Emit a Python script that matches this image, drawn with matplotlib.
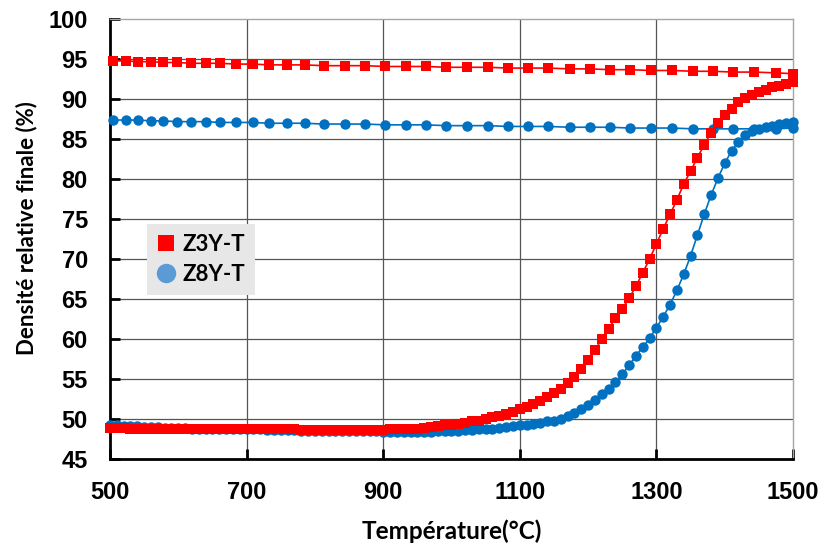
import matplotlib
matplotlib.use("Agg")
import matplotlib.pyplot as plt
from matplotlib.lines import Line2D

# ---------------- data ----------------
heat_T = list(range(500, 1501, 10))

z3y_heat = [48.9, 48.9, 48.9, 48.8, 48.8, 48.8, 48.8, 48.8, 48.7, 48.7,
            48.7, 48.7, 48.7, 48.7, 48.7, 48.7, 48.7, 48.7, 48.7, 48.7,
            48.7, 48.7, 48.7, 48.7, 48.7, 48.7, 48.7, 48.7, 48.6, 48.6,
            48.6, 48.6, 48.6, 48.6, 48.6, 48.6, 48.6, 48.6, 48.6, 48.6,
            48.6, 48.7, 48.7, 48.7, 48.8, 48.8, 48.9, 49.0, 49.1, 49.2,
            49.3, 49.4, 49.5, 49.7, 49.8, 50.0, 50.2, 50.4, 50.6, 50.9,
            51.2, 51.5, 51.9, 52.3, 52.7, 53.2, 53.8, 54.5, 55.3, 56.2,
            57.4, 58.6, 60.0, 61.3, 62.6, 63.8, 65.1, 66.6, 68.3, 70.0,
            71.9, 73.8, 75.6, 77.4, 79.4, 81.0, 82.7, 84.3, 85.8, 87.0,
            88.0, 88.8, 89.6, 90.1, 90.5, 90.9, 91.2, 91.5, 91.7, 91.9,
            92.1]

z8y_heat = [49.2, 49.2, 49.1, 49.1, 49.1, 49.0, 49.0, 49.0, 48.9, 48.9,
            48.9, 48.9, 48.8, 48.8, 48.8, 48.8, 48.8, 48.7, 48.7, 48.7,
            48.7, 48.7, 48.7, 48.6, 48.6, 48.6, 48.6, 48.6, 48.5, 48.5,
            48.5, 48.5, 48.5, 48.5, 48.5, 48.5, 48.5, 48.5, 48.5, 48.5,
            48.4, 48.4, 48.4, 48.4, 48.4, 48.4, 48.4, 48.4, 48.5, 48.5,
            48.5, 48.5, 48.6, 48.6, 48.7, 48.7, 48.8, 48.9, 49.0, 49.1,
            49.2, 49.3, 49.4, 49.5, 49.7, 49.8, 50.0, 50.4, 50.8, 51.3,
            51.8, 52.4, 53.1, 53.8, 54.6, 55.6, 56.7, 57.9, 59.0, 60.1,
            61.4, 62.8, 64.3, 66.1, 68.1, 70.4, 73.0, 75.6, 78.0, 80.1,
            82.0, 83.5, 84.7, 85.5, 86.0, 86.3, 86.5, 86.7, 86.9, 87.0,
            87.2]

final_T = [505, 523, 541, 560, 578, 598, 619, 641, 661, 684, 709, 733, 759,
           785, 813, 844, 873, 903, 933, 963, 992, 1023, 1053, 1083, 1112,
           1141, 1173, 1203, 1232, 1261, 1292, 1323, 1354, 1383, 1412, 1443,
           1475, 1500]

z3y_final = [94.8, 94.8, 94.7, 94.7, 94.6, 94.6, 94.5, 94.5, 94.5, 94.4,
             94.4, 94.3, 94.3, 94.3, 94.2, 94.2, 94.2, 94.1, 94.1, 94.1,
             94.0, 94.0, 94.0, 93.9, 93.9, 93.9, 93.8, 93.8, 93.7, 93.7,
             93.6, 93.6, 93.5, 93.5, 93.4, 93.4, 93.3, 93.2]

z8y_final = [87.4, 87.4, 87.4, 87.3, 87.3, 87.2, 87.2, 87.2, 87.1, 87.1,
             87.1, 87.0, 87.0, 87.0, 86.9, 86.9, 86.9, 86.8, 86.8, 86.8,
             86.7, 86.7, 86.7, 86.6, 86.6, 86.6, 86.5, 86.5, 86.5, 86.4,
             86.4, 86.4, 86.3, 86.3, 86.3, 86.3, 86.3, 86.4]

series_names = ["Z3Y-T", "Z8Y-T"]
x_ticks = [500, 700, 900, 1100, 1300, 1500]
y_ticks = [45, 50, 55, 60, 65, 70, 75, 80, 85, 90, 95, 100]

# ---------------- plot ----------------
RED = "#ff0000"
BLUE = "#0070c0"
BLUE_LEG = "#5b9bd5"

fig = plt.figure(figsize=(8.25, 5.44), dpi=100)
ax = fig.add_axes([0.1333, 0.1562, 0.8279, 0.8083])

ax.set_xlim(500, 1500)
ax.set_ylim(45, 100)

# grid
ax.set_axisbelow(True)
for yv in y_ticks[1:-1]:
    ax.axhline(yv, color="#555555", lw=0.9, zorder=0)
for xv in x_ticks[1:-1]:
    ax.axvline(xv, color="#555555", lw=0.9, zorder=0)

z8_x = heat_T + final_T[::-1]
z8_y = z8y_heat + z8y_final[::-1]
z3_x = heat_T + final_T[::-1]
z3_y = z3y_heat + z3y_final[::-1]

ax.plot(z8_x, z8_y, color=BLUE, lw=1.2, marker="o", markersize=7.5,
        markeredgewidth=0, clip_on=False, zorder=3)
ax.plot(z3_x, z3_y, color=RED, lw=1.2, marker="s", markersize=7.8,
        markeredgewidth=0, clip_on=False, zorder=4)

# spines
for s in ["left", "bottom"]:
    ax.spines[s].set_linewidth(2.0)
    ax.spines[s].set_color("black")
for s in ["top", "right"]:
    ax.spines[s].set_linewidth(1.0)
    ax.spines[s].set_color("#a6a6a6")

ax.set_xticks(x_ticks)
ax.set_yticks(y_ticks)
ax.tick_params(axis="both", direction="in", length=7, width=2, pad=16,
               labelsize=17)
for lab in ax.get_xticklabels() + ax.get_yticklabels():
    lab.set_fontfamily("Liberation Sans")
    lab.set_fontweight("bold")

ax.set_xlabel("Température(°C)", family="Lato", fontweight="bold",
              fontsize=17.5)
ax.set_ylabel("Densité relative finale (%)", family="Lato",
              fontweight="bold", fontsize=16)
ax.xaxis.set_label_coords(0.5, -0.137)
ax.yaxis.set_label_coords(-0.107, 0.526)

handles = [
    Line2D([], [], linestyle="none", marker="s", markersize=12,
           color=RED, markeredgewidth=0),
    Line2D([], [], linestyle="none", marker="o", markersize=14,
           color=BLUE_LEG, markeredgewidth=0),
]
leg = ax.legend(handles, series_names, loc="upper left",
                bbox_to_anchor=(0.054, 0.535), borderaxespad=0,
                frameon=True, fancybox=False, facecolor="#e7e7e7",
                edgecolor="none", framealpha=1, handlelength=0.85,
                handletextpad=0.3, borderpad=0.45, labelspacing=0.4,
                prop={"family": "Lato", "weight": "bold", "size": 16})
leg.set_zorder(5)

fig.savefig("out.png", dpi=100)
